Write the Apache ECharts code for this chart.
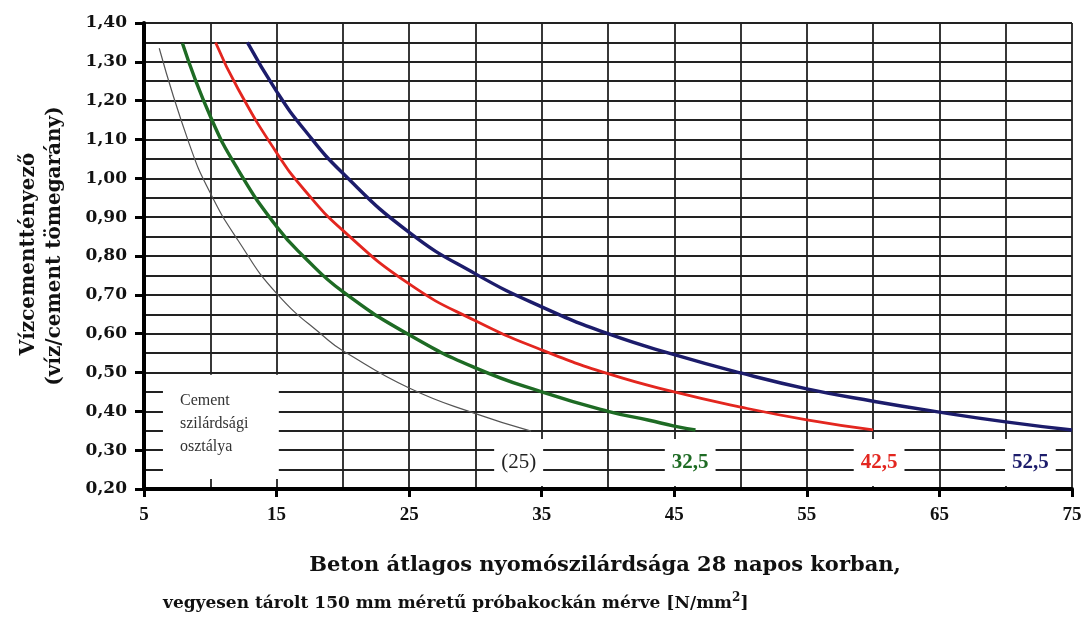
<!DOCTYPE html>
<html>
<head>
<meta charset="utf-8">
<script src="https://cdn.jsdelivr.net/npm/echarts@6/dist/echarts.min.js"></script>
<style>
html,body{margin:0;padding:0;background:#fff;}
#chart{width:1086px;height:619px;}
</style>
</head>
<body>
<div id="chart"></div>
<script>
// ---- data ----
// cement strength classes shown at the foot of the curves
const cementClasses = ['(25)', '32,5', '42,5', '52,5'];

// concrete mean compressive strength (N/mm2) -> water/cement ratio
const strength25 = [6.15, 8.4, 10, 12.1, 15, 18.9, 20, 25, 30, 34.2];
const wc25       = [1.335, 1.09, 0.962, 0.84, 0.704, 0.583, 0.556, 0.46, 0.394, 0.349];

const strength325 = [7.9, 10, 12.1, 15, 17.1, 20, 25, 30, 35, 40, 43.1, 45, 46.6];
const wc325       = [1.348, 1.16, 1.022, 0.876, 0.797, 0.708, 0.597, 0.512, 0.45, 0.40, 0.377, 0.362, 0.352];

const strength425 = [10.4, 12.1, 15, 17.1, 20, 25, 30, 35, 40, 45, 50, 55, 60];
const wc425       = [1.35, 1.23, 1.066, 0.97, 0.866, 0.728, 0.633, 0.558, 0.497, 0.45, 0.411, 0.378, 0.352];

const strength525 = [12.8, 15, 17.1, 20, 25, 30, 35, 40, 45, 50, 55, 60, 65, 70, 75];
const wc525       = [1.35, 1.224, 1.125, 1.013, 0.861, 0.754, 0.669, 0.60, 0.546, 0.499, 0.458, 0.426, 0.398, 0.373, 0.352];

// where the class labels sit (data coordinates)
const classLabelX = [33.26, 46.2, 60.45, 71.86];
const classLabelY = 0.268;

// legend box text and its extent (data coordinates)
const legendText = ['Cement', 'szilárdsági', 'osztálya'];
const legendBoxX = [6.43, 15.17];
const legendBoxY = [0.494, 0.226];

// axis ranges
const xRange = [5, 75];
const yRange = [0.2, 1.4];

// ---- chart ----
const zip = (xs, ys) => xs.map((x, i) => [x, ys[i]]);
const fmtY = v => v.toFixed(2).replace('.', ',');

const classColors = ['#222222', '#1e6b24', '#e3261f', '#1c1c6b'];
const gridColor = '#222222';

const chart = echarts.init(document.getElementById('chart'), null, {renderer: 'canvas'});

const option = {
  animation: false,
  backgroundColor: '#ffffff',
  grid: {left: 144, right: 14, top: 23, bottom: 130},
  xAxis: [
    {
      type: 'value', min: xRange[0], max: xRange[1], interval: 5,
      axisLine: {show: false}, axisTick: {show: false}, axisLabel: {show: false},
      splitLine: {show: true, lineStyle: {color: gridColor, width: 1.8}}
    },
    {
      type: 'value', min: xRange[0], max: xRange[1], interval: 10, position: 'bottom',
      axisLine: {show: true, onZero: false, lineStyle: {color: '#000', width: 4}},
      axisTick: {show: true, length: 8, lineStyle: {color: '#000', width: 3}},
      axisLabel: {margin: 17, fontFamily: 'Liberation Serif', fontWeight: 'bold', fontSize: 19, color: '#111'},
      splitLine: {show: false}
    }
  ],
  yAxis: [
    {
      type: 'value', min: yRange[0], max: yRange[1], interval: 0.05,
      axisLine: {show: false}, axisTick: {show: false}, axisLabel: {show: false},
      splitLine: {show: true, lineStyle: {color: gridColor, width: 1.8}}
    },
    {
      type: 'value', min: yRange[0], max: yRange[1], interval: 0.1, position: 'left',
      axisLine: {show: true, onZero: false, lineStyle: {color: '#000', width: 4}},
      axisTick: {show: true, length: 9, lineStyle: {color: '#000', width: 3}},
      axisLabel: {margin: 17, fontFamily: 'DejaVu Serif', fontWeight: 'bold', fontSize: 17, color: '#111', formatter: fmtY},
      splitLine: {show: false}
    }
  ],
  series: [
    {
      name: '(25)', type: 'line', xAxisIndex: 0, yAxisIndex: 0,
      data: zip(strength25, wc25), symbol: 'none', smooth: 0.5, silent: true, z: 3,
      lineStyle: {color: '#555', width: 1.2}
    },
    {
      name: '32,5', type: 'line', xAxisIndex: 0, yAxisIndex: 0,
      data: zip(strength325, wc325), symbol: 'none', smooth: 0.5, silent: true, z: 3,
      lineStyle: {color: '#1e6b24', width: 3.4}
    },
    {
      name: '42,5', type: 'line', xAxisIndex: 0, yAxisIndex: 0,
      data: zip(strength425, wc425), symbol: 'none', smooth: 0.5, silent: true, z: 3,
      lineStyle: {color: '#e3261f', width: 2.8}
    },
    {
      name: '52,5', type: 'line', xAxisIndex: 0, yAxisIndex: 0,
      data: zip(strength525, wc525), symbol: 'none', smooth: 0.5, silent: true, z: 3,
      lineStyle: {color: '#1c1c6b', width: 3.4}
    },
    {
      name: 'labels', type: 'scatter', xAxisIndex: 0, yAxisIndex: 0, silent: true, z: 5,
      symbolSize: 1, itemStyle: {color: 'rgba(255,255,255,0)', opacity: 1},
      data: classLabelX.map((x, i) => ({
        value: [x, classLabelY],
        label: {
          color: classColors[i],
          fontWeight: i === 0 ? 'normal' : 'bold'
        }
      })),
      label: {
        show: true, position: 'inside', opacity: 1,
        textBorderWidth: 0,
        formatter: p => cementClasses[p.dataIndex],
        backgroundColor: '#ffffff', padding: [16, 7, 9, 7], lineHeight: 22,
        fontFamily: 'Liberation Serif', fontSize: 21
      },
      markArea: {
        silent: true,
        itemStyle: {color: '#ffffff', borderWidth: 0, opacity: 1},
        label: {
          show: true, position: [17, 14],
          formatter: legendText.join('\n'),
          fontFamily: 'Liberation Serif', fontSize: 16, lineHeight: 23, color: '#333',
          align: 'left', verticalAlign: 'top'
        },
        data: [[{coord: [legendBoxX[0], legendBoxY[0]]}, {coord: [legendBoxX[1], legendBoxY[1]]}]]
      }
    }
  ],
  graphic: [
    {
      type: 'text', x: 29, y: 254, rotation: Math.PI / 2, silent: true,
      style: {text: 'Vízcementtényező', textAlign: 'center', textVerticalAlign: 'middle',
              font: 'bold 20px "DejaVu Serif"', fill: '#111'}
    },
    {
      type: 'text', x: 55, y: 246, rotation: Math.PI / 2, silent: true,
      style: {text: '(víz/cement tömegarány)', textAlign: 'center', textVerticalAlign: 'middle',
              font: 'bold 20px "DejaVu Serif"', fill: '#111'}
    },
    {
      type: 'text', x: 605, y: 566, silent: true,
      style: {text: 'Beton átlagos nyomószilárdsága 28 napos korban,', textAlign: 'center', textVerticalAlign: 'middle',
              font: 'bold 21px "DejaVu Serif"', fill: '#111'}
    },
    {
      type: 'text', x: 163, y: 604, silent: true,
      style: {
        text: '{t|vegyesen tárolt 150 mm méretű próbakockán mérve [N/mm}{s|2}{t|]}',
        textAlign: 'left', textVerticalAlign: 'middle',
        rich: {
          t: {font: 'bold 17px "DejaVu Serif"', fill: '#111', lineHeight: 24},
          s: {font: 'bold 12px "DejaVu Serif"', fill: '#111', lineHeight: 24, verticalAlign: 'top'}
        }
      }
    }
  ]
};

chart.setOption(option);
</script>
</body>
</html>
